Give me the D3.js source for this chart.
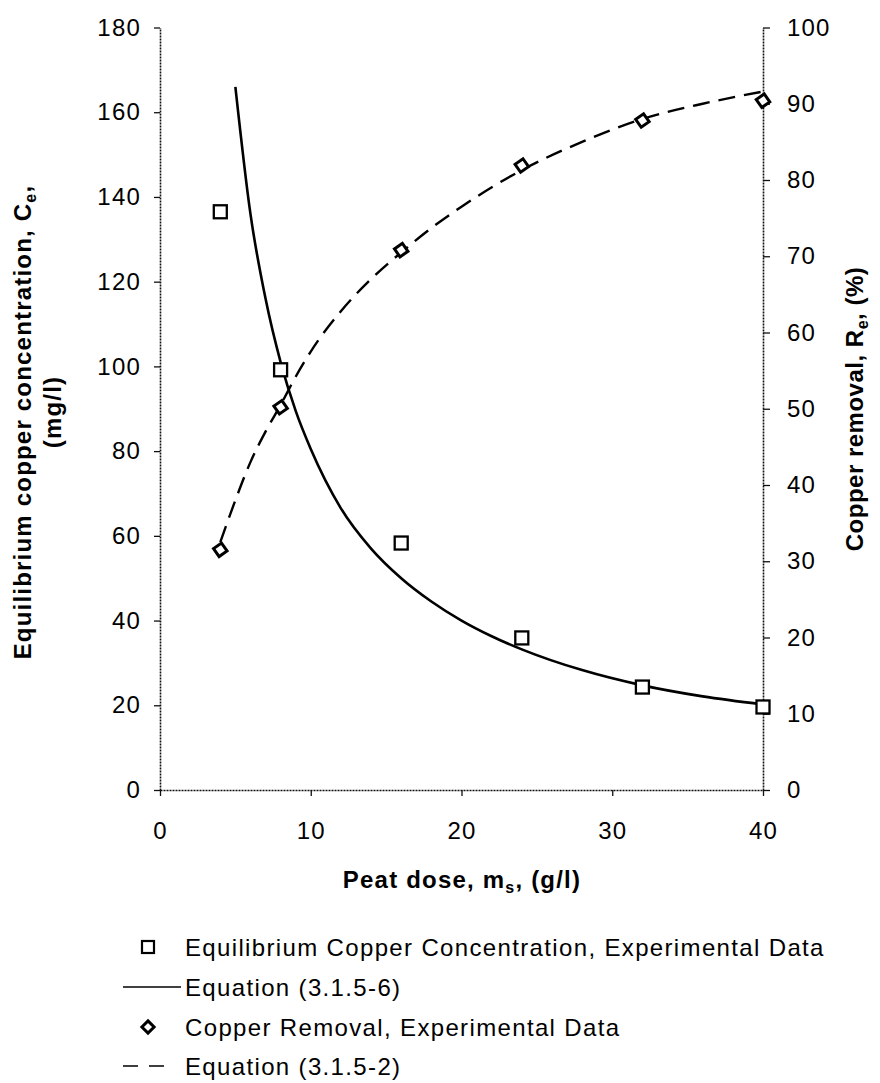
<!DOCTYPE html>
<html><head><meta charset="utf-8">
<script src="https://cdn.jsdelivr.net/npm/d3@7"></script>
<style>body{margin:0;background:#fff}svg{display:block}text{font-family:"Liberation Sans",Arial,sans-serif;fill:#000}</style>
</head><body><svg id="c" width="880" height="1083"></svg>
<script>
const doseExp = [4, 8, 16, 24, 32, 40];
const ceExp = [136.5, 99.2, 58.3, 35.9, 24.3, 19.6];
const removalExp = [31.5, 50.2, 70.8, 81.9, 87.8, 90.4];
const doseEq6 = [5, 6, 7, 8, 9, 10, 12, 14, 16, 18, 20, 22, 24, 28, 32, 36, 40];
const ceEq6 = [166, 136, 116, 101, 89.5, 80.5, 66.5, 57, 50, 44.5, 40, 36.3, 33.2, 28.3, 24.7, 22.1, 20.2];
const doseEq2 = [4, 5, 6, 7, 8, 9, 10, 12, 14, 16, 18, 20, 24, 28, 32, 36, 40];
const removalEq2 = [32.5, 38, 43, 47, 50.5, 54.2, 57.5, 62.8, 67, 70.5, 73.7, 76.5, 81.3, 85, 88, 90, 91.6];
const xTicks = [0, 10, 20, 30, 40];
const leftTicks = [0, 20, 40, 60, 80, 100, 120, 140, 160, 180];
const rightTicks = [0, 10, 20, 30, 40, 50, 60, 70, 80, 90, 100];
const legendLabels = ["Equilibrium Copper Concentration, Experimental Data", "Equation (3.1.5-6)", "Copper Removal, Experimental Data", "Equation (3.1.5-2)"];

const svg = d3.select("#c");
const x = d3.scaleLinear().domain([0, 40]).range([160, 763]);
const yL = d3.scaleLinear().domain([0, 180]).range([790, 27.5]);
const yR = d3.scaleLinear().domain([0, 100]).range([790, 27.5]);

const FS = 24, LS = 1.2;
const axisStyle = g => {
  g.select(".domain").attr("stroke", "#111").attr("stroke-width", 1.6).attr("stroke-dasharray", "2,1");
  g.selectAll(".tick line").attr("stroke", "#111").attr("stroke-width", 1.3);
  g.selectAll(".tick text").attr("font-size", FS).attr("letter-spacing", LS)
    .attr("font-family", '"Liberation Sans",Arial,sans-serif');
};

svg.append("g").attr("transform", "translate(0,790)")
  .call(d3.axisBottom(x).tickValues(xTicks).tickSize(6).tickPadding(26).tickSizeOuter(0))
  .call(axisStyle);
svg.append("g").attr("transform", "translate(160,0)")
  .call(d3.axisLeft(yL).tickValues(leftTicks).tickSize(6).tickPadding(13).tickSizeOuter(0))
  .call(axisStyle);
svg.append("g").attr("transform", "translate(763,0)")
  .call(d3.axisRight(yR).tickValues(rightTicks).tickSize(7).tickPadding(17).tickSizeOuter(0))
  .call(axisStyle);

// curves
const lineL = d3.line().x(d => x(d[0])).y(d => yL(d[1])).curve(d3.curveMonotoneX);
const lineR = d3.line().x(d => x(d[0])).y(d => yR(d[1])).curve(d3.curveMonotoneX);
svg.append("path").datum(d3.zip(doseEq6, ceEq6)).attr("d", lineL)
  .attr("fill", "none").attr("stroke", "#000").attr("stroke-width", 2.6);
svg.append("path").datum(d3.zip(doseEq2, removalEq2)).attr("d", lineR)
  .attr("fill", "none").attr("stroke", "#000").attr("stroke-width", 2.4).attr("stroke-dasharray", "17,9");

// markers
const sq = 13;
svg.append("g").selectAll("rect").data(d3.zip(doseExp, ceExp)).join("rect")
  .attr("x", d => x(d[0]) - sq / 2).attr("y", d => yL(d[1]) - sq / 2)
  .attr("width", sq).attr("height", sq).attr("fill", "#fff").attr("stroke", "#000").attr("stroke-width", 2.3);
const dia = d3.symbol().type(d3.symbolDiamond2).size(120);
svg.append("g").selectAll("path").data(d3.zip(doseExp, removalExp)).join("path")
  .attr("transform", d => `translate(${x(d[0])},${yR(d[1])}) rotate(10)`)
  .attr("d", dia).attr("fill", "#fff").attr("stroke", "#000").attr("stroke-width", 3);

// axis titles
const sub = (t, main, s, rest) => {
  t.append("tspan").text(main);
  t.append("tspan").attr("font-size", 16).attr("dy", 5).text(s);
  t.append("tspan").attr("dy", -5).text(rest);
};
svg.append("text").attr("x", 462).attr("y", 888).attr("text-anchor", "middle")
  .attr("font-size", FS).attr("font-weight", "bold").attr("letter-spacing", LS)
  .call(t => sub(t, "Peat dose, m", "s", ", (g/l)"));
svg.append("text").attr("transform", "translate(31,422) rotate(-90)").attr("text-anchor", "middle")
  .attr("font-size", FS).attr("font-weight", "bold").attr("letter-spacing", LS)
  .call(t => sub(t, "Equilibrium copper concentration, C", "e", ","));
svg.append("text").attr("transform", "translate(61,412) rotate(-90)").attr("text-anchor", "middle")
  .attr("font-size", FS).attr("font-weight", "bold").attr("letter-spacing", LS).text("(mg/l)");
svg.append("text").attr("transform", "translate(863,409) rotate(-90)").attr("text-anchor", "middle")
  .attr("font-size", FS).attr("font-weight", "bold").attr("letter-spacing", 0.5)
  .call(t => sub(t, "Copper removal, R", "e", ", (%)"));

// legend
const rowY = [947, 987, 1027, 1066];
const lg = svg.append("g");
lg.selectAll("text").data(legendLabels).join("text")
  .attr("x", 185).attr("y", (d, i) => rowY[i] + 8.5)
  .attr("font-size", FS).attr("letter-spacing", LS + 0.15).text(d => d);
lg.append("rect").attr("x", 148 - 6).attr("y", rowY[0] - 6).attr("width", 12).attr("height", 12)
  .attr("fill", "#fff").attr("stroke", "#000").attr("stroke-width", 2.2);
lg.append("line").attr("x1", 123).attr("x2", 181).attr("y1", rowY[1]).attr("y2", rowY[1]).attr("stroke", "#000").attr("stroke-width", 1.6);
lg.append("path").attr("transform", `translate(148,${rowY[2]})`).attr("d", d3.symbol().type(d3.symbolDiamond2).size(95)).attr("fill", "#fff").attr("stroke", "#000").attr("stroke-width", 3);
lg.append("line").attr("x1", 123).attr("x2", 172).attr("y1", rowY[3]).attr("y2", rowY[3]).attr("stroke", "#000").attr("stroke-width", 1.6).attr("stroke-dasharray", "15,11");
</script></body></html>
